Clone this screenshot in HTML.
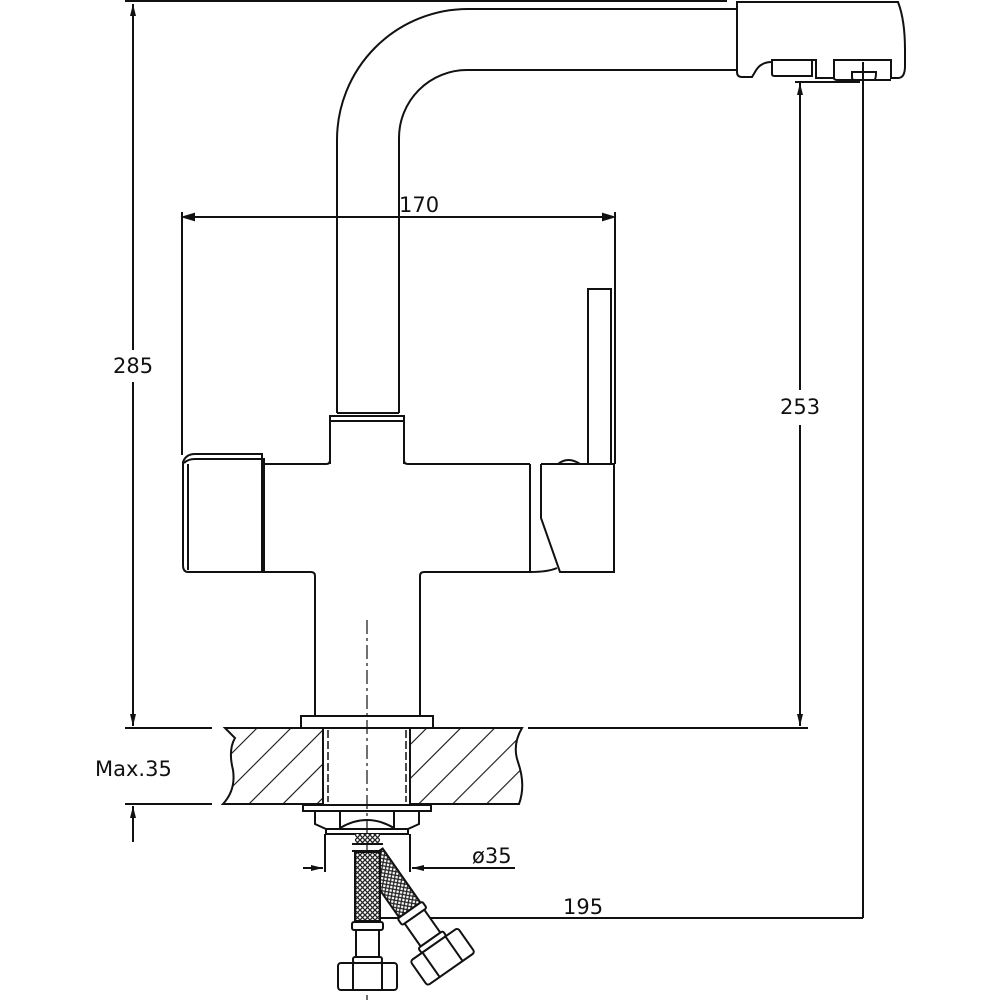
<!DOCTYPE html>
<html><head><meta charset="utf-8"><style>
html,body{margin:0;padding:0;background:#fff}
svg{display:block}
text{font-family:"DejaVu Sans","Liberation Sans",sans-serif;font-size:21px;fill:#111}
</style></head><body>
<svg width="1000" height="1000" viewBox="0 0 1000 1000" xmlns="http://www.w3.org/2000/svg">
<defs>
<pattern id="hatch" patternUnits="userSpaceOnUse" width="24" height="24" patternTransform="rotate(45)">
<line x1="0" y1="0" x2="0" y2="24" stroke="#111" stroke-width="2.2"/>
</pattern>
<pattern id="mesh" patternUnits="userSpaceOnUse" width="5" height="5">
<rect width="5" height="5" fill="#fff"/>
<path d="M0 0L5 5M5 0L0 5" stroke="#222" stroke-width="1.3"/>
</pattern>
<marker id="ar" markerWidth="12" markerHeight="8" refX="12" refY="4" orient="auto" markerUnits="userSpaceOnUse">
<path d="M0 1L12 4L0 7Z" fill="#111"/>
</marker>
</defs>
<g fill="none" stroke="#111" stroke-width="2">
<line x1="125" y1="1" x2="727" y2="1"/>
<line x1="133" y1="350" x2="133" y2="4" marker-end="url(#ar)"/>
<line x1="133" y1="382" x2="133" y2="726" marker-end="url(#ar)"/>
<line x1="125" y1="728" x2="212" y2="728"/>
<line x1="528" y1="728" x2="808" y2="728"/>
<line x1="125" y1="804" x2="212" y2="804"/>
<line x1="133" y1="842" x2="133" y2="806" marker-end="url(#ar)"/>
<line x1="800" y1="390" x2="800" y2="83" marker-end="url(#ar)"/>
<line x1="800" y1="425" x2="800" y2="726" marker-end="url(#ar)"/>
<line x1="795" y1="82" x2="860" y2="82"/>
<line x1="863" y1="62" x2="863" y2="918"/>
<line x1="380" y1="918" x2="863" y2="918"/>
<line x1="182" y1="212" x2="182" y2="455"/>
<line x1="615" y1="212" x2="615" y2="463"/>
<line x1="184" y1="217" x2="613" y2="217"/>
<path d="M184 217l10 -3v6z" fill="#111"/>
<path d="M613 217l-10 -3v6z" fill="#111"/>
<path d="M337 413V140A131 131 0 0 1 468 9H737"/>
<path d="M399 413V138A68 68 0 0 1 467 70H737"/>
<path d="M737 2H898Q905 20 905 50V66Q905 78 898 78H891V60H834V78H816V60H772V62Q760 62 755 72L752 77H742Q737 77 737 72Z"/>
<path d="M772 60V74Q772 76 775 76H812V60"/>
<path d="M834 78Q834 80 838 80H891"/>
<path d="M852 72V78Q852 80 856 80H874Q876 80 876 72Z"/>
<path d="M330 464V416H404V464"/>
<line x1="330" y1="421" x2="404" y2="421"/>
<line x1="337" y1="413" x2="399" y2="413"/>
<path d="M262 464H326Q330 464 330 460"/>
<path d="M404 460Q404 464 408 464H530"/>
<path d="M262 572H311Q315 572 315 576V716"/>
<path d="M420 716V576Q420 572 424 572H530"/>
<line x1="262" y1="464" x2="262" y2="572"/>
<line x1="264" y1="458" x2="264" y2="572"/>
<path d="M188 572H262V454H195Q186 454 183 462V565Q183 572 188 572Z"/>
<path d="M184 463Q188 459 195 459H262"/>
<line x1="188" y1="464" x2="188" y2="570"/>
<line x1="530" y1="464" x2="530" y2="572"/>
<path d="M541 464V518L560 572H614V464H541"/>
<path d="M530 572Q548 572 557 568"/>
<rect x="588" y="289" width="23" height="175"/>
<line x1="615" y1="270" x2="615" y2="464"/>
<path d="M558 464Q568 456 580 464Z"/>
<rect x="301" y="716" width="132" height="12"/>
<path d="M225 728H323V804H223Q236 790 233 770Q228 750 235 738Z" fill="url(#hatch)"/>
<path d="M410 728H522Q512 745 518 762Q526 785 519 804H410Z" fill="url(#hatch)"/>
<line x1="323" y1="728" x2="323" y2="804"/>
<line x1="410" y1="728" x2="410" y2="804"/>
<line x1="328" y1="730" x2="328" y2="802" stroke-dasharray="8 3" stroke-width="1.5"/>
<line x1="406" y1="730" x2="406" y2="802" stroke-dasharray="8 3" stroke-width="1.5"/>
<rect x="303" y="805" width="128" height="6"/>
<path d="M315 811V824L326 829H408L419 824V811"/>
<path d="M340 828Q367 812 394 828"/>
<line x1="340" y1="811" x2="340" y2="828"/>
<line x1="394" y1="811" x2="394" y2="828"/>
<rect x="326" y="829" width="82" height="5"/>
<line x1="325" y1="834" x2="325" y2="872"/>
<line x1="410" y1="834" x2="410" y2="872"/>
<line x1="303" y1="868" x2="323" y2="868" marker-end="url(#ar)"/>
<line x1="515" y1="868" x2="412" y2="868" marker-end="url(#ar)"/>
<line x1="367" y1="620" x2="367" y2="1000" stroke-width="1.2" stroke-dasharray="14 4 3 4"/>
<rect x="355" y="834" width="25" height="9" fill="url(#mesh)" stroke="none"/>
<line x1="352" y1="844" x2="383" y2="844"/>
<line x1="352" y1="851" x2="383" y2="851"/>
<g transform="rotate(-35 372 856)">
<rect x="359" y="856" width="26" height="66" fill="url(#mesh)"/>
<rect x="357" y="922" width="30" height="8" rx="2" fill="#fff"/>
<rect x="360" y="930" width="24" height="28" fill="#fff"/>
<rect x="357" y="958" width="30" height="6" rx="2" fill="#fff"/>
<rect x="343" y="964" width="58" height="30" rx="3" fill="#fff"/>
<line x1="358" y1="964" x2="358" y2="994"/>
<line x1="386" y1="964" x2="386" y2="994"/>
</g>
<rect x="355" y="852" width="25" height="69" fill="url(#mesh)"/>
<rect x="352" y="922" width="31" height="8" rx="2" fill="#fff"/>
<rect x="356" y="930" width="23" height="28" fill="#fff"/>
<rect x="353" y="957" width="29" height="6" rx="2" fill="#fff"/>
<rect x="338" y="963" width="59" height="27" rx="3" fill="#fff"/>
<line x1="353" y1="963" x2="353" y2="990"/>
<line x1="382" y1="963" x2="382" y2="990"/>
</g>
<text x="113" y="373">285</text>
<text x="780" y="414">253</text>
<text x="399" y="212">170</text>
<text x="95" y="776">Max.35</text>
<text x="472" y="863">ø35</text>
<text x="563" y="914">195</text>
</svg>
</body></html>
